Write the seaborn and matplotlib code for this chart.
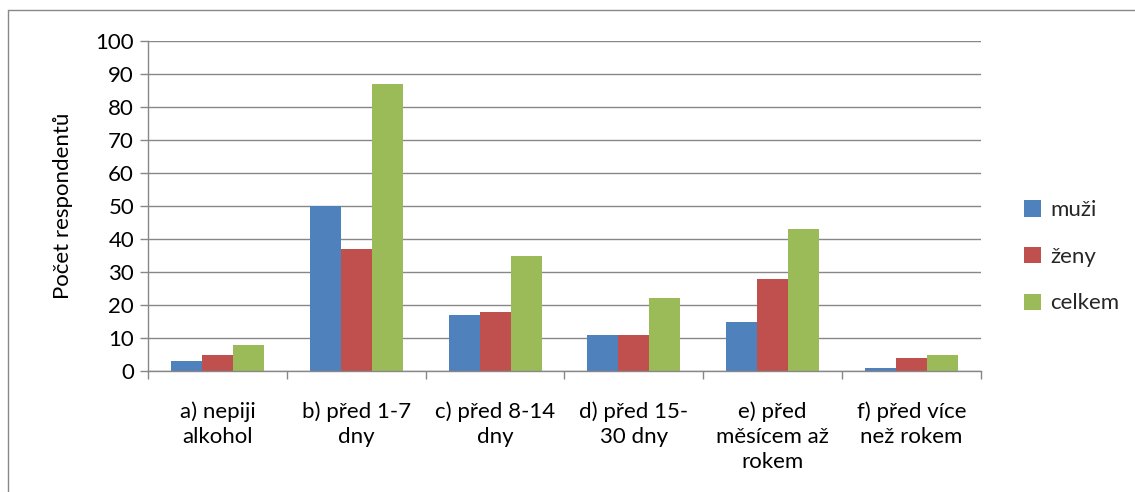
import matplotlib
matplotlib.use("Agg")
import matplotlib.pyplot as plt
import matplotlib.lines as mlines
import seaborn as sns
import pandas as pd
import numpy as np

categories = [
    "a) nepiji\nalkohol",
    "b) před 1-7\ndny",
    "c) před 8-14\ndny",
    "d) před 15-\n30 dny",
    "e) před\nměsícem až\nrokem",
    "f) před více\nnež rokem",
]
muzi = [3, 50, 17, 11, 15, 1]
zeny = [5, 37, 18, 11, 28, 4]
celkem = [8, 87, 35, 22, 43, 5]
series_names = ["muži", "ženy", "celkem"]
colors = ["#4F81BD", "#C0504D", "#9BBB59"]
yticks = list(range(0, 101, 10))

df = pd.DataFrame({
    "kategorie": categories * 3,
    "pocet": muzi + zeny + celkem,
    "skupina": [s for s in series_names for _ in categories],
})

sns.set_theme(style="white")
plt.rcParams["font.family"] = ["Lato", "DejaVu Sans"]

fs = 16
fig = plt.figure(figsize=(11.35, 4.92), dpi=100)
ax = fig.add_axes([0.1304, 0.2459, 0.8643 - 0.1304, 0.9167 - 0.2459])

sns.barplot(data=df, x="kategorie", y="pocet", hue="skupina",
            palette=colors, width=0.67, gap=0, saturation=1,
            edgecolor="none", linewidth=0, ax=ax)

grid_c = "#878787"
ax.set_ylim(0, 100)
ax.set_xlim(-0.5, len(categories) - 0.5)
ax.set_yticks(yticks)
ax.set_yticklabels([str(v) for v in yticks], fontsize=fs, color="black")
ax.yaxis.grid(True, color=grid_c, linewidth=1)
ax.set_axisbelow(True)
ax.tick_params(axis="y", which="major", length=6, width=1, color=grid_c,
               direction="out", pad=4, left=True)

ax.set_xticks(range(len(categories)))
ax.set_xticklabels(categories, fontsize=fs, color="black", linespacing=1.32)
ax.tick_params(axis="x", which="major", length=0, pad=22)
ax.set_xticks(np.arange(-0.5, len(categories), 1.0), minor=True)
ax.tick_params(axis="x", which="minor", length=6, width=1, color=grid_c,
               direction="out", bottom=True)

for side in ["top", "right"]:
    ax.spines[side].set_visible(False)
for side in ["left", "bottom"]:
    ax.spines[side].set_color(grid_c)
    ax.spines[side].set_linewidth(1)

ax.set_xlabel("")
ax.set_ylabel("Počet respondentů", fontsize=fs, color="black", labelpad=16)

handles, labels = ax.get_legend_handles_labels()
ax.legend_.remove()
fig.legend(handles, labels, loc="center left", bbox_to_anchor=(0.885, 0.478),
           frameon=False, fontsize=fs, handlelength=0.75, handleheight=0.75,
           handletextpad=0.4, labelspacing=1.2)

# outer chart frame
fig.add_artist(mlines.Line2D([8 / 1135, 8 / 1135], [0, 1 - 10 / 492],
                             transform=fig.transFigure, color="#888888", lw=1))
fig.add_artist(mlines.Line2D([8 / 1135, 1], [1 - 10 / 492, 1 - 10 / 492],
                             transform=fig.transFigure, color="#888888", lw=1))

fig.savefig("out.png", dpi=100, facecolor="white")
